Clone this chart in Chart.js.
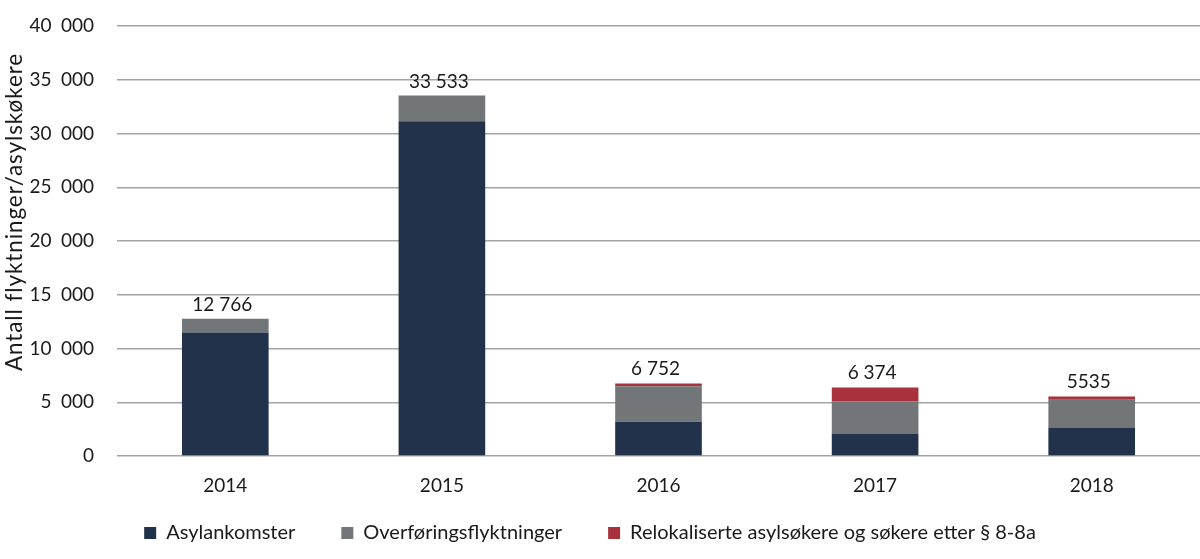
<!DOCTYPE html>
<html>
<head>
<meta charset="utf-8">
<script src="https://cdn.jsdelivr.net/npm/chart.js@4/dist/chart.umd.min.js"></script>
<style>
  html, body { margin: 0; padding: 0; background: #fff; }
  #chart { display: block; }
</style>
</head>
<body>
<canvas id="chart" width="1200" height="559"></canvas>
<script>
const years = ["2014", "2015", "2016", "2017", "2018"];
const asylankomster = [11480, 31145, 3180, 2100, 2650];
const overforing = [1286, 2388, 3310, 2970, 2590];
const relokaliserte = [0, 0, 262, 1304, 295];
const totalLabels = ["12 766", "33 533", "6 752", "6 374", "5535"];
const yTicks = [0, 5000, 10000, 15000, 20000, 25000, 30000, 35000, 40000];
const yTitle = "Antall flyktninger/asylskøkere";

const fontFamily = "Lato, 'Open Sans', sans-serif";
const textColor = "#1a1a1a";

const extrasPlugin = {
  id: "extras",
  beforeLayout(chart) {
    // legend uses wide item padding, but keep its box short
    const lg = chart.legend;
    if (lg && !lg._short) {
      const origFit = lg.fit.bind(lg);
      lg.fit = function () { origFit(); this.height = 63; };
      lg._short = true;
    }
  },
  afterLayout(chart) {
    chart.legend.top = 477;
    chart.legend.left -= 10;
    chart.legend.right -= 10;
  },
  afterDatasetsDraw(chart) {
    const ctx = chart.ctx;
    const yScale = chart.scales.y;
    const xScale = chart.scales.x;
    ctx.save();
    ctx.font = "19px " + fontFamily;
    ctx.fillStyle = textColor;
    ctx.textAlign = "center";
    ctx.textBaseline = "alphabetic";
    years.forEach((y, i) => {
      const total = asylankomster[i] + overforing[i] + relokaliserte[i];
      ctx.fillText(totalLabels[i], xScale.getPixelForValue(i) - 3, yScale.getPixelForValue(total) - 8);
    });
    // rotated y axis title
    ctx.translate(15, 212);
    ctx.rotate(-Math.PI / 2);
    ctx.textBaseline = "middle";
    ctx.font = "22.5px " + fontFamily;
    ctx.letterSpacing = "0.9px";
    ctx.fillText(yTitle, 0, 0);
    ctx.restore();
  }
};

const ctx = document.getElementById("chart").getContext("2d");
new Chart(ctx, {
  type: "bar",
  data: {
    labels: years,
    datasets: [
      { label: "Asylankomster", data: asylankomster, backgroundColor: "#22324b" },
      { label: "Overføringsflyktninger", data: overforing, backgroundColor: "#737679" },
      { label: "Relokaliserte asylsøkere og søkere etter § 8-8a", data: relokaliserte, backgroundColor: "#a8313d" }
    ]
  },
  options: {
    responsive: false,
    animation: false,
    maintainAspectRatio: false,
    layout: { padding: { left: 0, right: 0, top: 0, bottom: 0 } },
    datasets: { bar: { categoryPercentage: 1, barPercentage: 0.4 } },
    plugins: {
      tooltip: { enabled: false },
      legend: {
        position: "bottom",
        labels: {
          font: { family: fontFamily, size: 20 },
          color: textColor,
          boxWidth: 12,
          boxHeight: 12,
          padding: 46,
          useBorderRadius: false
        }
      }
    },
    scales: {
      x: {
        stacked: true,
        grid: { display: false },
        border: { display: false },
        ticks: { font: { family: fontFamily, size: 19 }, color: textColor, padding: 10 },
        afterFit: (scale) => { scale.height = 40; }
      },
      y: {
        stacked: true,
        min: 0,
        max: 40000,
        afterBuildTicks: (scale) => { scale.ticks = yTicks.map(v => ({ value: v })); },
        grid: { color: "#a3a3a3", lineWidth: 1.5, drawTicks: false },
        border: { display: false },
        ticks: {
          font: { family: fontFamily, size: 19 },
          color: textColor,
          padding: 23,
          callback: (v) => v === 0 ? "0" : (v / 1000) + "\u2002000"
        },
        afterFit: (scale) => {
          scale.width = 117;
          scale.paddingTop = 26;
        }
      }
    }
  },
  plugins: [extrasPlugin]
});
</script>
</body>
</html>
